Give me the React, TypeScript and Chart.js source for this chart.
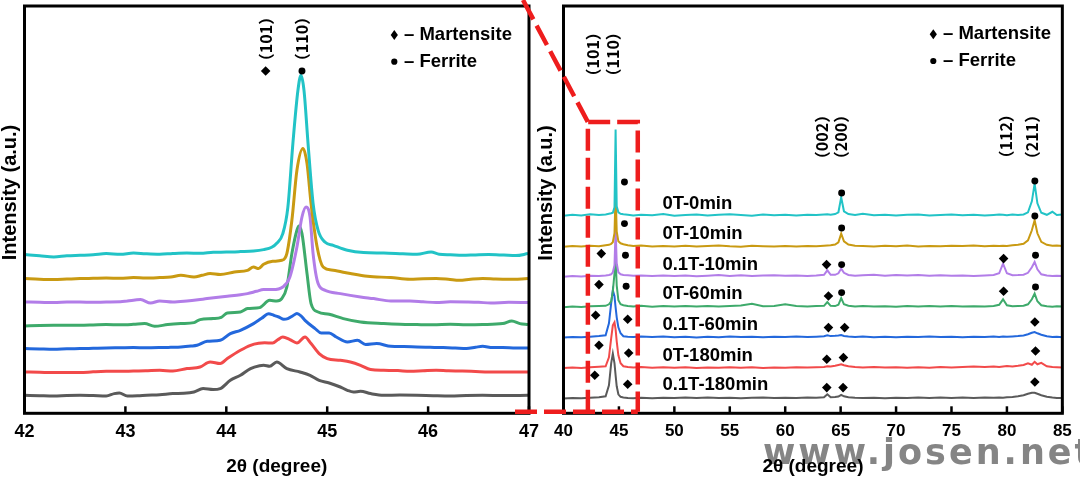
import { useEffect, useRef } from 'react';
import { Chart, registerables } from 'chart.js';

Chart.register(...registerables);

const FONT = '"Liberation Sans", Arial, "Noto Sans CJK SC", sans-serif';
const LABEL_FONT = '"Noto Sans CJK SC", "Liberation Sans", sans-serif';

// ---------- samples ----------
const SAMPLE_NAMES = ['0T-0min', '0T-10min', '0.1T-10min', '0T-60min', '0.1T-60min', '0T-180min', '0.1T-180min'];
const SAMPLE_COLORS = ['#22c3c6', '#c99a12', '#b27de8', '#3eaa6b', '#2368dc', '#f24a4a', '#5a5a5a'];

// ---------- left panel: 2θ 42–47°, [2θ, intensity (a.u., offset)] ----------
const LEFT_0T_0MIN = [[42.0,158.7],[42.15,157.5],[42.29,156.3],[42.42,157.5],[42.55,158],[42.68,158.5],[42.81,159.7],[42.95,159],[43.08,160.3],[43.2,159.5],[43.34,159],[43.47,159.8],[43.61,160.3],[43.74,160],[43.87,161],[44.0,161.2],[44.14,161.7],[44.27,162.3],[44.37,163.7],[44.45,166],[44.5,170],[44.56,179.7],[44.61,206],[44.66,270],[44.71,323],[44.74,338],[44.77,323],[44.81,270],[44.86,210],[44.91,183],[44.98,171],[45.06,168],[45.2,163],[45.36,160.7],[45.56,160.3],[45.75,159.5],[45.89,159],[46.03,161.3],[46.11,159],[46.22,158.5],[46.34,158],[46.47,158.4],[46.6,158.7],[46.75,158.2],[46.87,157.7],[46.99,159.7]];
const LEFT_0T_10MIN = [[42.0,134.7],[42.15,134],[42.29,133.7],[42.42,134.2],[42.55,134.7],[42.68,135],[42.81,135.3],[42.95,135],[43.08,135.7],[43.2,135.3],[43.34,135.7],[43.45,136.2],[43.55,138],[43.68,136.3],[43.76,138],[43.84,139.7],[43.94,138.7],[44.08,141.3],[44.21,143],[44.27,146.3],[44.32,144.7],[44.37,149],[44.46,152],[44.55,153],[44.6,159.7],[44.65,193],[44.7,243],[44.76,264.7],[44.8,249.7],[44.84,209.7],[44.9,166.3],[44.96,146.3],[45.06,143],[45.23,139.7],[45.4,137],[45.63,135.7],[45.82,134],[45.95,134.5],[46.08,134.7],[46.2,134],[46.31,133],[46.42,134],[46.54,134.7],[46.67,134.2],[46.8,134],[46.99,134.7]];
const LEFT_01T_10MIN = [[42.0,111.3],[42.15,111],[42.29,110.7],[42.42,111.2],[42.55,111.3],[42.68,111],[42.81,111.3],[42.95,111.5],[43.02,112.3],[43.15,113.7],[43.25,110.3],[43.34,112.3],[43.47,111.3],[43.61,112.3],[43.72,113.5],[43.81,114.7],[44.01,117],[44.14,118.5],[44.21,119.7],[44.3,122],[44.37,123.7],[44.46,123.7],[44.56,126.3],[44.63,136.3],[44.7,166.3],[44.75,196.3],[44.79,206.3],[44.83,196.3],[44.86,159.7],[44.91,129.7],[44.98,123],[45.13,119.7],[45.33,116.3],[45.46,114.7],[45.63,112.3],[45.82,112.3],[45.95,111.5],[46.08,110.7],[46.22,111.5],[46.38,111.3],[46.5,111],[46.62,110.3],[46.8,111],[46.99,110.7]];
const LEFT_0T_60MIN = [[42.0,87.3],[42.15,87.8],[42.29,88],[42.42,88],[42.55,88],[42.68,88.3],[42.81,88.7],[42.95,88.5],[43.08,89],[43.19,89.7],[43.29,87],[43.42,88.7],[43.55,89.7],[43.68,90.7],[43.74,93.7],[43.87,94.7],[43.95,96],[44.01,100.3],[44.14,101.3],[44.21,104.7],[44.33,105.7],[44.43,113],[44.5,112.3],[44.55,114.7],[44.6,126.3],[44.65,159.7],[44.7,183],[44.72,187.3],[44.75,179.7],[44.8,139.7],[44.84,109.7],[44.91,101.3],[45.02,99],[45.16,94.7],[45.33,91.3],[45.56,89.7],[45.72,89],[45.89,88.7],[46.05,88.5],[46.22,89],[46.38,88.5],[46.54,88.7],[46.74,89.7],[46.83,92.3],[46.91,89.7],[46.99,88.7]];
const LEFT_01T_60MIN = [[42.0,64.7],[42.15,64.3],[42.29,64],[42.42,64.5],[42.55,64.7],[42.68,65],[42.81,65.3],[42.95,65.5],[43.08,65.7],[43.2,65.5],[43.34,65.7],[43.45,66],[43.55,66.3],[43.65,67.2],[43.71,68],[43.81,72],[43.94,73],[44.04,79.7],[44.14,83],[44.27,89.7],[44.35,95],[44.42,99.5],[44.47,98],[44.52,96.3],[44.57,94],[44.61,94.7],[44.66,97.5],[44.7,99.7],[44.74,97.5],[44.78,93],[44.88,84.7],[44.94,80.3],[45.02,80.3],[45.09,76.3],[45.2,71.3],[45.3,73],[45.38,68.7],[45.49,69.7],[45.63,67],[45.76,66.7],[45.89,66.3],[46.02,66],[46.15,65.7],[46.27,65.2],[46.38,64.7],[46.47,66],[46.54,67],[46.64,65.7],[46.74,65.7],[46.87,65.3],[46.99,65.3]];
const LEFT_0T_180MIN = [[42.0,41.3],[42.15,41],[42.29,40.7],[42.42,40.7],[42.55,40.7],[42.68,41.5],[42.81,42],[42.95,42],[43.08,42.3],[43.2,42.5],[43.34,43],[43.47,42.3],[43.61,44.7],[43.74,46.3],[43.84,51.3],[43.94,49.7],[44.01,54.7],[44.14,63],[44.24,68],[44.32,70],[44.38,70.5],[44.46,70.3],[44.51,73.5],[44.56,76.3],[44.63,73.7],[44.7,70.3],[44.78,76.3],[44.84,69.7],[44.92,59.7],[45.0,54.7],[45.13,53],[45.23,51.3],[45.33,48],[45.43,43.7],[45.56,43],[45.7,42.7],[45.82,42],[45.95,42.5],[46.08,43],[46.2,42.5],[46.34,42.3],[46.47,41.8],[46.6,41.3],[46.8,41.3],[46.99,41.3]];
const LEFT_01T_180MIN = [[42.0,18],[42.15,17.6],[42.29,17.3],[42.42,17.8],[42.55,18],[42.68,17.7],[42.81,17.3],[42.89,19.7],[42.94,20.3],[43.02,17.3],[43.12,17.5],[43.21,18],[43.34,18.5],[43.47,19.7],[43.58,20],[43.68,21.3],[43.77,24.7],[43.87,23.7],[43.94,24.7],[44.04,33],[44.14,38],[44.24,44.7],[44.33,47.5],[44.37,48],[44.43,47],[44.5,51.3],[44.6,44.7],[44.73,41.3],[44.83,38],[44.92,33],[45.02,30.3],[45.13,26.3],[45.2,23],[45.26,21.3],[45.33,22],[45.43,19.7],[45.56,18],[45.72,18.2],[45.89,18],[46.05,17.6],[46.22,17.3],[46.38,17.8],[46.54,18],[46.75,17.7],[46.99,18]];
const LEFT_SERIES = [LEFT_0T_0MIN, LEFT_0T_10MIN, LEFT_01T_10MIN, LEFT_0T_60MIN, LEFT_01T_60MIN, LEFT_0T_180MIN, LEFT_01T_180MIN];

const LEFT_MARTENSITE_MARKS = [[44.39, 342.3]];
const LEFT_FERRITE_MARKS = [[44.75, 342.3]];
const LEFT_PEAK_LABELS = ['（101）', '（110）'];
const LEFT_PEAK_X = [44.39, 44.75];
const LEFT_PEAK_LABEL_Y = [374.3, 374.3];

// ---------- right panel: 2θ 40–85° ----------
const RIGHT_ANGLE = [40, 40.8, 41.6, 42.4, 43.2, 43.8, 44.1, 44.3, 44.45, 44.6, 44.7, 44.8, 44.95, 45.15, 45.4, 45.8, 46.3, 47, 48, 49, 50, 51, 52, 53, 54, 55, 56, 57, 58, 59, 60, 61, 62, 62.8, 63.5, 63.8, 64.1, 64.5, 64.8, 65.05, 65.3, 65.7, 66.3, 67, 68, 69, 70, 71, 72, 73, 74, 75, 76, 77, 78, 78.8, 79.3, 79.65, 80.0, 80.5, 81.0, 81.5, 81.9, 82.25, 82.5, 82.75, 83.1, 83.6, 84.1, 84.5, 85];
const RIGHT_0T_0MIN = [197.5,198.5,197.8,199,198.3,198.8,199.5,200,200.5,206,283.7,207,201,199.5,199,198.5,197.8,198.6,198,199.2,197.6,198.4,198.9,197.7,198.5,199,198.2,197.5,198.8,198,198.6,197.8,198.5,198.2,198.8,199,198.5,199.2,201,216,202,199.2,198.2,199.5,198,198.6,197.8,198.5,198.9,197.9,198.4,198.8,198,198.6,197.8,198.3,198.7,198.5,198.1,198.8,198.3,198.9,201,212,229.7,210,200.5,198.5,201.5,198.3,198.8];
const RIGHT_0T_10MIN = [166.5,167.3,166.8,167.5,167,168,168.5,169.5,171,180,222,182,172,170,169,168,167.2,167.8,166.8,167.4,166.9,167.6,166.7,167.2,167.8,167,166.6,167.5,167.1,166.8,167.4,166.9,167.3,167,167.6,167.9,168,168.8,171,179.7,172,168.8,167.6,167.2,166.8,167.5,167,167.8,166.9,167.4,167,167.6,167.2,167.8,167.1,167.5,167.2,167.6,167.4,168,168.5,169.5,173,183,193,180,171.5,168.5,167.5,167.8,167.2];
const RIGHT_01T_10MIN = [136.6,137.2,136.8,137.5,137.2,137.8,138.3,139,141,148,185,150,141,139,138.3,138,137.6,137.9,137.2,137.8,137.3,137.9,137.1,137.6,138.2,137.4,138,137.3,137.7,138,137.5,137.9,137.3,137.8,138.5,143,138.5,138.5,140,144.7,140.5,138.3,137.6,138,138.6,137.6,138.3,137.9,138.4,137.6,138,137.5,137.9,137.4,137.8,138.3,140,149.7,140,138,138.2,138.6,140.5,146,151.3,144,139,137.8,137.3,137.6,137.2];
const RIGHT_0T_60MIN = [106,106.8,106.3,107,107.3,107.5,109,112,122,140,155,128,113,109,108,107.3,106.8,107.5,106.6,107.2,106.8,107.4,106.9,107.3,106.7,107.2,107.8,109.5,107,107.4,109,107.3,106.8,107.2,107.5,111.3,107.5,107.2,108.5,115.3,109,107.5,106.8,107.3,106.7,107.1,106.6,107.2,106.8,107.4,106.9,107.3,106.7,107.1,106.8,107.3,108.5,114,108,107,107.2,107.5,109,114,119.7,112,108,107,106.6,107,106.8];
const RIGHT_01T_60MIN = [75.7,76.3,76,76.6,77.3,78,90,110,123,117,106,96,86,80,77,76.6,76.4,76.8,76.2,76.7,76.1,76.6,75.9,76.5,76.1,76.7,76.2,76.6,76,76.5,76.2,76.8,76.3,76.6,77,78,77.2,77.5,77.8,78.2,77.4,76.8,76.3,76.7,76.1,76.5,76,76.6,76.2,76.8,76.3,76.6,76.1,76.5,76.2,76.7,76.4,76.9,76.5,76.8,77.2,77.8,79,80.5,81.3,80,78.5,77,76.3,76.6,76.1];
const RIGHT_0T_180MIN = [45.2,45.8,45.4,46,46.5,47,56,75,88,91,84,72,58,50,47,46.3,45.8,46.2,45.6,46.1,45.5,46,45.4,45.9,45.5,46.1,45.6,46,45.4,45.9,45.6,46.1,45.7,46,46.3,47,46.8,47.5,48.3,49,48,47,46.2,45.8,46.3,45.7,46.1,45.6,46,45.5,46.2,45.8,46.4,46.8,46.2,46.9,46.4,46.8,47.2,46.9,47.5,48.3,50,48.5,51.5,49,50.5,47,46.2,46,45.7];
const RIGHT_01T_180MIN = [14.8,15.3,15,15.5,16,17,28,50,59.7,50,38,27,19,16.5,15.8,15.3,15,15.5,15.1,15.6,15.2,15.7,15.3,15.8,15.2,15.6,15.1,15.5,15.8,15.3,15.6,15.2,15.7,15.5,16,19,16,16.2,16.8,18.5,17,16,15.5,15.2,15.6,15.1,15.5,15.2,15.7,15.3,15.8,15.4,15.7,15.3,15.8,15.5,15.9,15.6,16,16.4,17,18,19.5,20.5,20.5,19.5,18,16.5,15.8,15.4,15.3];
const RIGHT_SERIES = [RIGHT_0T_0MIN, RIGHT_0T_10MIN, RIGHT_01T_10MIN, RIGHT_0T_60MIN, RIGHT_01T_60MIN, RIGHT_0T_180MIN, RIGHT_01T_180MIN];

const RIGHT_FERRITE_MARKS = [[45.5,231.3],[45.5,189.7],[45.59,158],[45.65,127],[65.09,220.3],[82.52,232.3],[65.09,185.3],[82.52,197.3],[65.09,148.7],[82.58,158],[65.09,120.7],[82.58,126.3]];
const RIGHT_MARTENSITE_MARKS = [[43.41,159.7],[43.2,128.7],[42.9,98],[45.79,94],[43.2,68],[45.88,60.3],[42.82,38],[45.79,29],[63.73,148.7],[79.7,154.7],[63.9,117.3],[79.7,122],[63.9,85.7],[65.36,85.7],[82.52,91.3],[63.75,54],[65.25,55.7],[82.58,62.3],[63.75,25.7],[65.22,25.7],[82.52,31.3]];
const RIGHT_PEAK_LABELS = ['（101）', '（110）', '（002）', '（200）', '（112）', '（211）'];
const RIGHT_PEAK_X = [42.66, 44.45, 63.28, 65.0, 79.9, 82.22];
const RIGHT_PEAK_LABEL_Y = [359, 359, 276.3, 276.3, 277, 276.3];
const SAMPLE_LABEL_X = 48.92;
const SAMPLE_LABEL_Y = [209, 179, 148, 119, 88, 57, 28];

// zoom window shown in the right panel
const ZOOM_BOX_X = [42.2, 46.7];
const ZOOM_BOX_Y = [1.6, 291.3];

const Y_MAX = 407.3;

// ---------- helpers ----------
function vText(ctx: CanvasRenderingContext2D, text: string, x: number, y: number, font: string) {
  ctx.save();
  ctx.translate(x, y);
  ctx.rotate(-Math.PI / 2);
  ctx.font = font;
  ctx.fillStyle = '#000';
  ctx.textAlign = 'center';
  ctx.textBaseline = 'middle';
  ctx.fillText(text, 0, 0);
  ctx.restore();
}

function drawFrame(ctx: CanvasRenderingContext2D, a: any, xs: any) {
  ctx.save();
  ctx.strokeStyle = '#000';
  ctx.lineWidth = 3;
  ctx.setLineDash([]);
  ctx.strokeRect(a.left, a.top, a.right - a.left, a.bottom - a.top);
  ctx.lineWidth = 2.5;
  xs.ticks.forEach((t: any) => {
    const px = xs.getPixelForValue(t.value);
    ctx.beginPath();
    ctx.moveTo(px, a.bottom);
    ctx.lineTo(px, a.bottom - 7);
    ctx.stroke();
  });
  ctx.restore();
}

function drawLegend(ctx: CanvasRenderingContext2D, mx: number, y1: number, y2: number, tx: number) {
  ctx.save();
  ctx.fillStyle = '#000';
  ctx.beginPath();
  ctx.moveTo(mx, y1 - 5);
  ctx.lineTo(mx + 3.6, y1);
  ctx.lineTo(mx, y1 + 5);
  ctx.lineTo(mx - 3.6, y1);
  ctx.closePath();
  ctx.fill();
  ctx.beginPath();
  ctx.arc(mx, y2, 3.1, 0, Math.PI * 2);
  ctx.fill();
  ctx.font = `bold 18.5px ${FONT}`;
  ctx.textAlign = 'left';
  ctx.textBaseline = 'middle';
  ctx.fillText('– Martensite', tx, y1);
  ctx.fillText('– Ferrite', tx, y2);
  ctx.restore();
}

const toXY = (arr: number[][]) => arr.map(([x, y]) => ({ x, y }));

function markerSets(mart: number[][], ferr: number[][], r: number) {
  return [
    { data: toXY(mart), showLine: false, pointStyle: 'rectRot', pointRadius: r, backgroundColor: '#000', borderColor: '#000', borderWidth: 0 },
    { data: toXY(ferr), showLine: false, pointStyle: 'circle', pointRadius: r * 0.72, backgroundColor: '#000', borderColor: '#000', borderWidth: 0 },
  ];
}

function xScale(min: number, max: number, step: number, size: number, pad: number) {
  return {
    type: 'linear',
    min,
    max,
    afterFit: (s: any) => { s.height = 64.7; },
    grid: { display: false, drawTicks: false },
    border: { display: false },
    ticks: { stepSize: step, autoSkip: false, maxRotation: 0, color: '#000', padding: pad, font: { family: FONT, size, weight: 'bold' } },
    title: { display: true, text: '2θ (degree)', color: '#000', padding: { top: 0, bottom: 0 }, font: { family: FONT, size: 19, weight: 'bold' } },
  };
}

const leftDecor = {
  id: 'leftDecor',
  afterDraw(chart: any) {
    const { ctx, chartArea: a } = chart;
    const xs = chart.scales.x, ys = chart.scales.y;
    drawFrame(ctx, a, xs);
    vText(ctx, 'Intensity (a.u.)', 10, 192.5, `bold 20px ${FONT}`);
    LEFT_PEAK_LABELS.forEach((t, i) => vText(ctx, t, xs.getPixelForValue(LEFT_PEAK_X[i]), ys.getPixelForValue(LEFT_PEAK_LABEL_Y[i]), `bold 16px ${LABEL_FONT}`));
    drawLegend(ctx, 394.3, 35, 61.7, 404);
  },
};

const rightDecor = {
  id: 'rightDecor',
  beforeDraw(chart: any) {
    const ctx = chart.ctx;
    ctx.save();
    ctx.font = 'bold 35px "DejaVu Sans", sans-serif';
    (ctx as any).letterSpacing = '3px';
    ctx.fillStyle = '#858585';
    ctx.textAlign = 'left';
    ctx.textBaseline = 'alphabetic';
    ctx.fillText('www.josen.net', 763, 464);
    ctx.restore();
  },
  afterDraw(chart: any) {
    const { ctx, chartArea: a } = chart;
    const xs = chart.scales.x, ys = chart.scales.y;
    drawFrame(ctx, a, xs);
    vText(ctx, 'Intensity (a.u.)', 546.7, 193, `bold 20px ${FONT}`);
    RIGHT_PEAK_LABELS.forEach((t, i) => vText(ctx, t, xs.getPixelForValue(RIGHT_PEAK_X[i]), ys.getPixelForValue(RIGHT_PEAK_LABEL_Y[i]), `bold 16px ${LABEL_FONT}`));
    ctx.save();
    ctx.fillStyle = '#000';
    ctx.font = `bold 18.5px ${FONT}`;
    ctx.textAlign = 'left';
    ctx.textBaseline = 'middle';
    SAMPLE_NAMES.forEach((n, i) => ctx.fillText(n, xs.getPixelForValue(SAMPLE_LABEL_X), ys.getPixelForValue(SAMPLE_LABEL_Y[i])));
    ctx.restore();
    drawLegend(ctx, 933.3, 34.3, 61, 943);

    // red dashed zoom box and connectors
    const bx0 = xs.getPixelForValue(ZOOM_BOX_X[0]);
    const bx1 = xs.getPixelForValue(ZOOM_BOX_X[1]);
    const by0 = ys.getPixelForValue(ZOOM_BOX_Y[1]);
    const by1 = ys.getPixelForValue(ZOOM_BOX_Y[0]);
    ctx.save();
    ctx.strokeStyle = '#ee1d1d';
    ctx.lineWidth = 4.5;
    ctx.setLineDash([22, 7]);
    ctx.beginPath();
    ctx.moveTo(523, 0);
    ctx.lineTo(bx0, by0);
    ctx.stroke();
    ctx.beginPath();
    ctx.moveTo(515, by1);
    ctx.lineTo(bx1, by1);
    ctx.stroke();
    ctx.beginPath();
    ctx.moveTo(bx0, by1);
    ctx.lineTo(bx0, by0);
    ctx.lineTo(bx1, by0);
    ctx.lineTo(bx1, by1);
    ctx.stroke();
    ctx.restore();
  },
};

function makeLeft(canvas: HTMLCanvasElement) {
  return new Chart(canvas, {
    type: 'scatter',
    data: {
      datasets: [
        ...markerSets(LEFT_MARTENSITE_MARKS, LEFT_FERRITE_MARKS, 4.8),
        ...LEFT_SERIES.map((s, i) => ({
          label: SAMPLE_NAMES[i],
          data: toXY(s),
          showLine: true,
          borderColor: SAMPLE_COLORS[i],
          backgroundColor: SAMPLE_COLORS[i],
          borderWidth: 3,
          pointRadius: 0,
          cubicInterpolationMode: 'monotone',
        })),
      ],
    } as any,
    options: {
      responsive: false,
      animation: false,
      devicePixelRatio: 1,
      events: [],
      layout: { padding: { left: 24.5, right: 1080 - 529, top: 6, bottom: 0 } },
      plugins: { legend: { display: false }, tooltip: { enabled: false } },
      scales: {
        x: xScale(42, 47, 1, 18, 7.6),
        y: { type: 'linear', min: 0, max: Y_MAX, display: false },
      },
    } as any,
    plugins: [leftDecor],
  });
}

function makeRight(canvas: HTMLCanvasElement) {
  return new Chart(canvas, {
    type: 'scatter',
    data: {
      datasets: [
        ...markerSets(RIGHT_MARTENSITE_MARKS, RIGHT_FERRITE_MARKS, 4.8),
        ...RIGHT_SERIES.map((s, i) => ({
          label: SAMPLE_NAMES[i],
          data: RIGHT_ANGLE.map((x, j) => ({ x, y: s[j] })),
          showLine: true,
          borderColor: SAMPLE_COLORS[i],
          backgroundColor: SAMPLE_COLORS[i],
          borderWidth: 2,
          pointRadius: 0,
          tension: 0,
        })),
      ],
    } as any,
    options: {
      responsive: false,
      animation: false,
      devicePixelRatio: 1,
      events: [],
      layout: { padding: { left: 563.5, right: 1080 - 1067, top: 6, bottom: 0 } },
      plugins: { legend: { display: false }, tooltip: { enabled: false } },
      scales: {
        x: xScale(40, 85, 5, 17, 8.2),
        y: { type: 'linear', min: 0, max: Y_MAX, display: false },
      },
    } as any,
    plugins: [rightDecor],
  });
}

export default function App() {
  const leftRef = useRef<HTMLCanvasElement>(null);
  const rightRef = useRef<HTMLCanvasElement>(null);
  useEffect(() => {
    const l = makeLeft(leftRef.current!);
    const r = makeRight(rightRef.current!);
    return () => {
      l.destroy();
      r.destroy();
    };
  }, []);
  return (
    <div style={{ position: 'absolute', left: 0, top: 0, width: 1080, height: 478, background: '#fff', overflow: 'hidden' }}>
      <canvas ref={leftRef} width={1080} height={478} style={{ position: 'absolute', left: 0, top: 0 }} />
      <canvas ref={rightRef} width={1080} height={478} style={{ position: 'absolute', left: 0, top: 0 }} />
    </div>
  );
}
